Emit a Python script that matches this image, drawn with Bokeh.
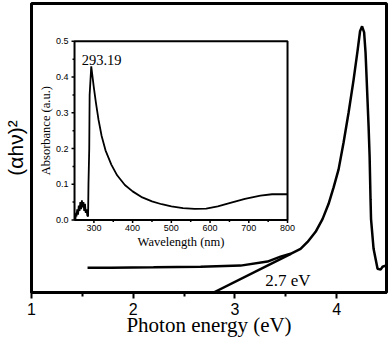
import math
from bokeh.plotting import figure
from bokeh.models import FixedTicker, Range1d
from bokeh.core.properties import value
from bokeh.embed import file_html
from bokeh.resources import INLINE

# ---- main Tauc plot data ----
energy = [1.551, 1.777, 2.20, 2.662, 3.055, 3.320, 3.448, 3.547, 3.645, 3.714,
          3.793, 3.861, 3.920, 3.970, 4.019, 4.068, 4.117, 4.166, 4.206, 4.230,
          4.250, 4.270, 4.284, 4.294, 4.314, 4.324, 4.333, 4.338, 4.363, 4.402,
          4.432, 4.451, 4.481]
ahv2 = [0.086, 0.086, 0.087, 0.089, 0.093, 0.107, 0.124, 0.134, 0.151, 0.175,
        0.210, 0.254, 0.306, 0.364, 0.426, 0.519, 0.622, 0.735, 0.838, 0.904,
        0.921, 0.900, 0.830, 0.746, 0.574, 0.471, 0.323, 0.254, 0.151, 0.082,
        0.079, 0.089, 0.093]
tangent_x = [2.79, 3.55]
tangent_y = [0.0, 0.134]
gap_label = ["2.7 eV"]
gap_label_x = [3.52]
gap_label_y = [0.041]
main_ticks = [1, 2, 3, 4]
main_minor = [1.5, 2.5, 3.5, 4.5]

# ---- inset absorbance data ----
wavelength = [252, 254, 255, 257, 259, 261, 263, 265, 267, 269, 271, 273, 275,
              277, 279, 281, 283, 285, 286, 288, 289, 293.19, 300, 305, 312, 320,
              330, 345, 360, 380, 400, 425, 450, 475, 500, 530, 560, 590, 620,
              650, 690, 730, 760, 800]
absorbance = [0.0, 0.02, 0.01, 0.03, 0.015, 0.04, 0.025, 0.05, 0.03, 0.055,
              0.035, 0.05, 0.025, 0.045, 0.02, 0.03, 0.012, 0.01, 0.10, 0.20,
              0.35, 0.43, 0.37, 0.33, 0.28, 0.235, 0.195, 0.155, 0.125, 0.098,
              0.08, 0.063, 0.052, 0.044, 0.038, 0.033, 0.031, 0.032, 0.038,
              0.047, 0.059, 0.068, 0.072, 0.072]
peak_label = ["293.19"]
peak_label_x = [320]
peak_label_y = [0.447]
inset_xticks = [300, 400, 500, 600, 700, 800]
inset_xminor = [350, 450, 550, 650, 750]
inset_yticks = [0.0, 0.1, 0.2, 0.3, 0.4, 0.5]
inset_yminor = [0.05, 0.15, 0.25, 0.35, 0.45]
inset_xlabels = ["300", "400", "500", "600", "700", "800"]
inset_ylabels = ["0.0", "0.1", "0.2", "0.3", "0.4", "0.5"]
inset_x_range = (250, 800)
inset_y_range = (0, 0.5)
# where the inset sits, in main-plot data coordinates
inset_box_x = (1.423, 3.517)
inset_box_y = (0.251, 0.869)

SANS = "Liberation Sans"
SERIF = "Liberation Serif"

# ---------------- main figure ----------------
p = figure(width=390, height=339, x_range=(1, 4.49), y_range=(0, 1),
           output_backend="svg", toolbar_location=None,
           min_border_left=31, min_border_right=4, min_border_top=3,
           min_border_bottom=45)
p.grid.visible = False
p.outline_line_color = "black"
p.outline_line_width = 3
p.outline_line_alpha = 1

p.xaxis.ticker = FixedTicker(ticks=main_ticks, minor_ticks=main_minor)
p.xaxis.axis_line_width = 3
p.xaxis.major_tick_line_width = 2
p.xaxis.minor_tick_line_width = 2
p.xaxis.major_tick_out = 6
p.xaxis.major_tick_in = 0
p.xaxis.minor_tick_out = 4
p.xaxis.minor_tick_in = 0
p.xaxis.major_label_standoff = 4
p.xaxis.major_label_text_font = SANS
p.xaxis.major_label_text_font_size = "16px"
p.xaxis.major_label_text_color = "black"
p.xaxis.axis_label = "Photon energy (eV)"
p.xaxis.axis_label_text_font = SERIF
p.xaxis.axis_label_text_font_size = "21px"
p.xaxis.axis_label_text_font_style = "normal"
p.xaxis.axis_label_standoff = -5
p.xaxis.axis_label_text_color = "black"

p.yaxis.ticker = FixedTicker(ticks=[])
p.yaxis.axis_line_width = 3
p.yaxis.major_tick_out = 0
p.yaxis.minor_tick_out = 0
p.yaxis.major_label_text_font_size = "0px"
p.yaxis.axis_label = "(\u03b1h\u03bd)\u00b2"
p.yaxis.axis_label_text_font = SANS
p.yaxis.axis_label_text_font_size = "21px"
p.yaxis.axis_label_text_font_style = "normal"
p.yaxis.axis_label_standoff = 5
p.yaxis.axis_label_text_color = "black"

p.line(energy, ahv2, line_color="black", line_width=2.5)
p.line(tangent_x, tangent_y, line_color="black", line_width=2.5)
p.text(x=gap_label_x, y=gap_label_y, text=gap_label,
       text_font=value(SERIF), text_font_size="17px",
       text_align="center", text_baseline="middle", text_color="black")

# ---------------- inset (sub-coordinate system) ----------------
sub = p.subplot(x_source=Range1d(*inset_x_range), y_source=Range1d(*inset_y_range),
                x_target=Range1d(*inset_box_x), y_target=Range1d(*inset_box_y))

x0, x1 = inset_x_range
y0, y1 = inset_y_range
sub.quad(left=[x0], right=[x1], bottom=[y0], top=[y1],
         fill_color="white", line_color="black", line_width=2)

# ticks
sub.ray(x=inset_xticks, y=[y0] * len(inset_xticks), length=3, length_units="screen",
        angle=-math.pi / 2, line_color="black", line_width=1.5)
sub.ray(x=inset_xminor, y=[y0] * len(inset_xminor), length=2, length_units="screen",
        angle=-math.pi / 2, line_color="black", line_width=1.5)
sub.ray(x=[x0] * len(inset_yticks), y=inset_yticks, length=3, length_units="screen",
        angle=math.pi, line_color="black", line_width=1.5)
sub.ray(x=[x0] * len(inset_yminor), y=inset_yminor, length=2, length_units="screen",
        angle=math.pi, line_color="black", line_width=1.5)

# tick labels
sub.text(x=inset_xticks, y=[y0] * len(inset_xticks), text=inset_xlabels,
         text_font=value(SANS), text_font_size="9px", text_color="black",
         text_align="center", text_baseline="top", y_offset=5)
sub.text(x=[x0] * len(inset_yticks), y=inset_yticks, text=inset_ylabels,
         text_font=value(SANS), text_font_size="9px", text_color="black",
         text_align="right", text_baseline="middle", x_offset=-6)

# axis titles
sub.text(x=[(x0 + x1) / 2], y=[y0], text=["Wavelength (nm)"],
         text_font=value(SERIF), text_font_size="12.5px", text_color="black",
         text_align="center", text_baseline="top", y_offset=15)
sub.text(x=[x0], y=[(y0 + y1) / 2], text=["Absorbance (a.u.)"],
         text_font=value(SERIF), text_font_size="12.5px", text_color="black",
         text_align="center", text_baseline="bottom", x_offset=-22,
         angle=math.pi / 2)

sub.line(wavelength, absorbance, line_color="black", line_width=1.8)
sub.text(x=peak_label_x, y=peak_label_y, text=peak_label,
         text_font=value(SERIF), text_font_size="14.5px",
         text_align="center", text_baseline="middle", text_color="black")

open("out.html", "w").write(file_html(p, INLINE))
